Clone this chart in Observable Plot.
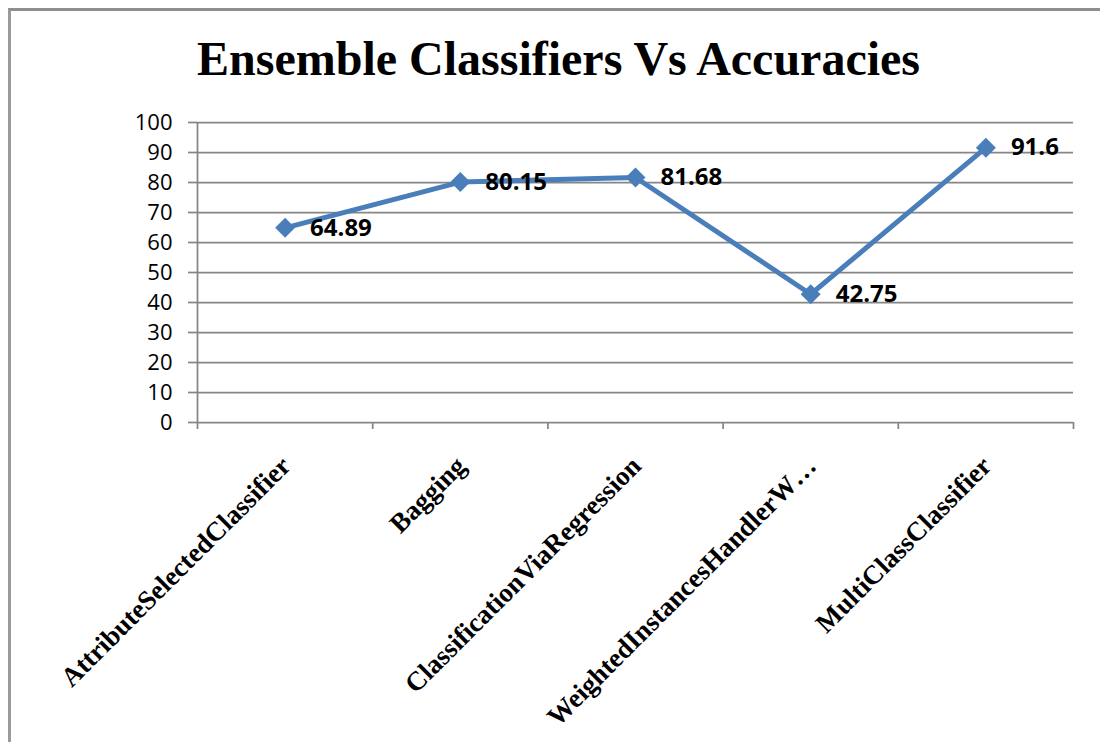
<!DOCTYPE html>
<html>
<head>
<meta charset="utf-8">
<script src="https://cdn.jsdelivr.net/npm/d3@7"></script>
<script src="https://cdn.jsdelivr.net/npm/@observablehq/plot@0.6"></script>
<style>
  html, body { margin: 0; padding: 0; background: #fff; width: 1100px; height: 742px; overflow: hidden; }
  #frame { position: absolute; left: 8px; top: 8px; width: 1200px; height: 900px;
           border-left: 3px solid #9a9a9a; border-top: 3px solid #8e8e8e; pointer-events: none; }
  #title { position: absolute; left: 0; top: 0; width: 1100px; height: 100px; box-sizing: border-box;
           padding-top: 35px; padding-left: 197px; line-height: 48px; white-space: nowrap;
           font-family: "Liberation Serif", "Times New Roman", serif; font-weight: bold; font-size: 48px; color: #000; }
  #chart { position: absolute; left: 0; top: 100px; }
</style>
</head>
<body>
<div id="title">Ensemble Classifiers Vs Accuracies</div>
<div id="chart"></div>
<div id="frame"></div>
<script>
const categories = [
  "AttributeSelectedClassifier",
  "Bagging",
  "ClassificationViaRegression",
  "WeightedInstancesHandlerW\u2026",
  "MultiClassClassifier"
];
const accuracies = [64.89, 80.15, 81.68, 42.75, 91.6];
const accuracyLabels = ["64.89", "80.15", "81.68", "42.75", "91.6"];
const yTicks = [0, 10, 20, 30, 40, 50, 60, 70, 80, 90, 100];
const xBounds = [0, 1, 2, 3, 4, 5];

const data = categories.map((c, i) => ({
  category: c, pos: i + 0.5, value: accuracies[i], label: accuracyLabels[i]
}));

const gridColor = "#868686";
const lineColor = "#4A7EBB";

const chart = Plot.plot({
  width: 1100,
  height: 642,
  marginLeft: 197,
  marginRight: 27,
  marginTop: 22,
  marginBottom: 320,
  style: { background: "transparent", color: "black", overflow: "visible" },
  x: { domain: [0, 5] },
  y: { domain: [0, 100] },
  marks: [
    Plot.gridY(yTicks, { stroke: gridColor, strokeOpacity: 1, strokeWidth: 1.75 }),
    Plot.axisY({ ticks: yTicks, tickSize: 9, tickPadding: 16, stroke: gridColor, strokeWidth: 1.75,
                 fill: "black", fontSize: 22, fontFamily: "Open Sans", label: null }),
    Plot.axisX({ ticks: xBounds, tickSize: 7, stroke: gridColor, strokeWidth: 1.75, fill: "none", label: null }),
    Plot.ruleX([0], { stroke: gridColor, strokeWidth: 1.75 }),
    Plot.line(data, { x: "pos", y: "value", stroke: lineColor, strokeWidth: 5, strokeLinejoin: "round" }),
    Plot.dot(data, { x: "pos", y: "value", symbol: "diamond2", r: 9, fill: lineColor, stroke: "none" }),
    Plot.text(data, { x: "pos", y: "value", text: "label", dx: 25, textAnchor: "start",
                      fontFamily: "Open Sans", fontWeight: "bold", fontSize: 24, fill: "black" }),
    Plot.text(data, { x: "pos", text: "category", frameAnchor: "bottom", rotate: -45,
                      textAnchor: "end", lineAnchor: "middle", dx: 1, dy: 39,
                      fontFamily: "Liberation Serif", fontWeight: "bold", fontSize: 27, fill: "black" })
  ]
});
document.getElementById("chart").appendChild(chart);
</script>
</body>
</html>
